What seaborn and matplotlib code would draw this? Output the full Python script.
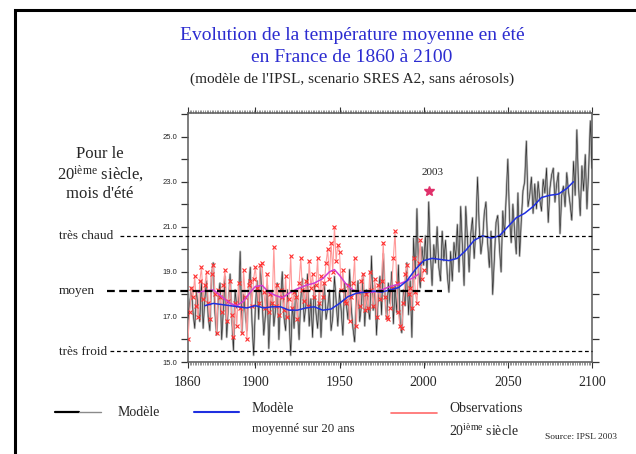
import matplotlib
matplotlib.use("Agg")
import pandas as pd
import seaborn as sns
import matplotlib.pyplot as plt
from matplotlib.lines import Line2D
from matplotlib.patches import Rectangle
from matplotlib.ticker import FixedLocator, MultipleLocator, FuncFormatter

# ---------------------------------------------------------------- data
model_years = list(range(1860, 2101))
model_temp = [
    16.9, 17.6, 18.3, 17.2, 16.5, 18.1, 17.4, 16.8, 18.6, 16.5,  # 1860s
    17.8, 18.6, 17.0, 16.4, 18.9, 19.4, 17.2, 16.2, 17.9, 18.5,  # 1870s
    16.0, 17.3, 18.8, 16.1, 17.6, 18.9, 17.0, 15.5, 18.2, 17.4,  # 1880s
    17.6, 19.9, 16.3, 18.0, 17.2, 16.4, 18.3, 19.2, 16.8, 15.3,  # 1890s
    17.4, 18.6, 16.9, 19.2, 17.8, 16.2, 17.1, 18.4, 15.6, 17.5,  # 1900s
    18.1, 16.6, 17.3, 18.5, 16.0, 17.7, 19.0, 17.0, 16.4, 18.2,  # 1910s
    17.1, 15.3, 17.6, 16.5, 18.2, 17.3, 16.0, 17.8, 18.7, 16.8,  # 1920s
    17.5, 18.9, 16.6, 17.8, 16.1, 18.4, 17.2, 16.5, 18.0, 16.1,  # 1930s
    17.6, 18.5, 16.9, 17.4, 18.2, 16.4, 17.0, 18.8, 17.7, 16.6,  # 1940s
    18.1, 17.3, 16.2, 18.5, 17.6, 16.9, 19.1, 17.4, 16.5, 15.9,  # 1950s
    17.8, 18.6, 16.8, 17.5, 18.9, 16.6, 18.2, 17.4, 16.9, 19.7,  # 1960s
    17.3, 18.4, 16.2, 17.9, 18.8, 17.1, 19.8, 18.0, 16.9, 18.5,  # 1970s
    17.6, 19.0, 16.7, 18.4, 17.2, 19.3, 16.8, 16.3, 18.2, 17.5,  # 1980s
    19.4, 17.1, 18.6, 16.1, 20.5, 18.7, 21.8, 19.0, 18.3, 20.1,  # 1990s
    19.3, 20.6, 18.9, 22.1, 19.8, 18.4, 20.2, 19.4, 21.0, 19.2,  # 2000s
    18.6, 20.8, 19.5, 20.4, 18.9, 18.1, 19.9, 18.6, 20.3, 19.6,  # 2010s
    21.1, 19.0, 21.9, 20.2, 18.4, 21.9, 20.5, 19.0, 20.7, 21.4,  # 2020s
    19.6, 20.9, 23.2, 21.0, 19.8, 20.4, 21.6, 22.1, 20.3, 19.2,  # 2030s
    20.8, 18.0, 19.6, 21.2, 21.5, 20.1, 19.0, 21.7, 20.6, 22.3,  # 2040s
    24.0, 21.4, 20.3, 22.0, 20.8, 19.8, 22.5, 19.7, 21.3, 22.6,  # 2050s
    23.0, 24.8, 21.9, 22.4, 23.2, 21.6, 22.9, 21.8, 23.0, 22.2,  # 2060s
    21.7, 23.1, 22.5, 23.6, 21.2, 22.7, 23.3, 23.6, 22.1, 22.9,  # 2070s
    23.4, 20.7, 22.4, 22.8, 21.9, 23.4, 22.6, 22.0, 21.3, 23.9,  # 2080s
    22.4, 25.3, 22.8, 21.5, 23.7, 22.6, 24.2, 21.8, 23.5, 25.7,  # 2090s
    23.6,                                                        # 2100
]

mean20_years = [1870, 1875, 1880, 1885, 1890, 1895, 1900, 1905, 1910, 1915,
                1920, 1925, 1930, 1935, 1940, 1945, 1950, 1955, 1960, 1965,
                1970, 1975, 1980, 1985, 1990, 1995, 2000, 2005, 2010, 2015,
                2020, 2025, 2030, 2035, 2040, 2045, 2050, 2055, 2060, 2065,
                2070, 2075, 2080, 2085, 2089]
mean20_temp = [17.5, 17.6, 17.55, 17.5, 17.45, 17.4, 17.5, 17.4, 17.45, 17.45,
               17.3, 17.3, 17.4, 17.45, 17.3, 17.35, 17.6, 17.9, 18.05, 18.1,
               18.15, 18.1, 18.2, 18.3, 18.6, 19.1, 19.5, 19.6, 19.55, 19.5,
               19.6, 19.95, 20.4, 20.6, 20.5, 20.6, 21.0, 21.4, 21.6, 21.9,
               22.3, 22.4, 22.45, 22.7, 23.0]

obs_years = list(range(1860, 2001))
obs_temp = [
    16.0, 17.2, 18.3, 17.9, 18.8, 17.5, 17.0, 18.6, 19.2, 17.8,  # 1860s
    18.4, 19.0, 17.6, 16.9, 18.9, 19.3, 18.0, 16.3, 18.2, 17.9,  # 1870s
    17.2, 18.4, 19.1, 16.8, 17.7, 18.6, 17.1, 16.1, 17.6, 16.6,  # 1880s
    18.5, 17.4, 16.3, 19.1, 17.9, 16.0, 18.4, 18.6, 17.5, 18.7,  # 1890s
    19.2, 18.3, 17.6, 19.3, 19.4, 18.1, 17.4, 18.9, 17.2, 18.0,  # 1900s
    17.6, 20.1, 17.5, 18.4, 17.1, 18.2, 17.9, 17.3, 18.8, 17.0,  # 1910s
    17.8, 19.7, 17.4, 18.1, 17.9, 16.9, 18.5, 19.6, 18.2, 17.7,  # 1920s
    18.6, 17.5, 19.5, 18.3, 18.9, 17.9, 18.4, 19.6, 17.6, 18.8,  # 1930s
    17.9, 18.5, 19.4, 20.0, 18.7, 20.3, 19.0, 21.0, 19.5, 20.2,  # 1940s
    19.9, 18.2, 19.1, 17.7, 17.6, 18.4, 16.8, 17.9, 18.5, 19.6,  # 1950s
    16.6, 18.1, 17.5, 18.6, 18.9, 17.3, 18.0, 17.4, 19.0, 18.2,  # 1960s
    17.5, 18.7, 17.0, 18.4, 17.8, 18.6, 20.3, 17.9, 17.0, 16.9,  # 1970s
    17.4, 18.3, 19.6, 20.8, 18.5, 17.2, 16.6, 16.5, 17.6, 18.9,  # 1980s
    19.3, 18.0, 18.3, 17.4, 19.6, 18.1, 17.6, 19.4, 20.4, 18.7,  # 1990s
    19.1,                                                        # 2000
]

obs_mean_years = [1866, 1870, 1875, 1880, 1885, 1889, 1893, 1897, 1900, 1904,
                  1908, 1912, 1916, 1920, 1925, 1930, 1935, 1940, 1944, 1947,
                  1950, 1954, 1958, 1962, 1966, 1970, 1975, 1980, 1985, 1990,
                  1994, 1997]
obs_mean_temp = [18.1, 18.15, 18.2, 17.9, 17.6, 17.5, 17.7, 18.1, 18.35, 18.4,
                 18.1, 17.95, 17.85, 18.05, 18.25, 18.4, 18.5, 18.7, 19.0, 19.1,
                 18.85, 18.45, 18.2, 18.1, 18.1, 18.1, 18.2, 18.35, 18.45, 18.6,
                 18.75, 18.9]

summer_2003_year = 2003
summer_2003_temp = 22.6

level_labels = ["très chaud", "moyen", "très froid"]
level_temps = [20.6, 18.14, 15.47]

x_tick_years = [1860, 1900, 1950, 2000, 2050, 2100]
y_tick_temps = list(range(15, 27))

# ---------------------------------------------------------------- style
sns.set_theme(style="white")
plt.rcParams["font.family"] = ["Liberation Serif", "DejaVu Serif"]
plt.rcParams["mathtext.fontset"] = "custom"
plt.rcParams["mathtext.rm"] = "Liberation Serif"
plt.rcParams["mathtext.it"] = "Liberation Serif:italic"
plt.rcParams["mathtext.bf"] = "Liberation Serif:bold"

W, H = 636, 454
fig = plt.figure(figsize=(W / 100, H / 100), dpi=100)
fig.patch.set_facecolor("white")


def fx(px):
    return px / W


def fy(py):
    return 1 - py / H


ax = fig.add_axes([fx(188), fy(362), fx(592) - fx(188), fy(113) - fy(362)])
ax.set_facecolor("white")

# ---------------------------------------------------------------- series
df_model = pd.DataFrame({"year": model_years, "temp": model_temp})
df_mean20 = pd.DataFrame({"year": mean20_years, "temp": mean20_temp})
df_obs = pd.DataFrame({"year": obs_years, "temp": obs_temp})
df_obs_mean = pd.DataFrame({"year": obs_mean_years, "temp": obs_mean_temp})

# model: grey halo with a thin dark core
sns.lineplot(data=df_model, x="year", y="temp", ax=ax, estimator=None,
             color="#b4b4b4", linewidth=1.6, zorder=2)
sns.lineplot(data=df_model, x="year", y="temp", ax=ax, estimator=None,
             color="#2a2a2a", linewidth=0.45, zorder=3)
sns.lineplot(data=df_obs, x="year", y="temp", ax=ax, estimator=None,
             color="#ff9a9a", linewidth=0.8, marker="x", markersize=3.4,
             markeredgecolor="#ff3030", markeredgewidth=0.8, zorder=4)
sns.lineplot(data=df_obs_mean, x="year", y="temp", ax=ax, estimator=None,
             color="#d23cd2", linewidth=1.1, zorder=5)
sns.lineplot(data=df_mean20, x="year", y="temp", ax=ax, estimator=None,
             color="#1f2fe0", linewidth=1.1, zorder=6)
ax.plot([summer_2003_year], [summer_2003_temp], marker="*", ls="none",
        color="#e0306a", markersize=7, zorder=7)
ax.text(summer_2003_year + 2, summer_2003_temp + 0.8, "2003",
        ha="center", va="center", fontsize=8)

# reference levels, extending into the left margin
trans = ax.get_yaxis_transform()
level_spans = [(-0.168, 1.0), (-0.2, 0.629), (-0.193, 1.0)]
level_widths = [0.9, 1.6, 0.9]
level_dashes = [(0, (3, 2.2)), (0, (3.5, 2)), (0, (3, 2.2))]
level_text_y = [236, 291, 352]
for lab, t, span, lw, ds, ty in zip(level_labels, level_temps, level_spans,
                                    level_widths, level_dashes, level_text_y):
    ax.plot(span, [t, t], transform=trans, clip_on=False, color="black",
            linewidth=lw, linestyle=ds, zorder=8)
    fig.text(fx(59), fy(ty), lab, ha="left", va="center", fontsize=9.5)

# ---------------------------------------------------------------- axes
ax.set_xlabel("")
ax.set_ylabel("")
ax.set_xlim(1860, 2100)
ax.set_ylim(15, 26.05)
ax.xaxis.set_major_locator(FixedLocator(x_tick_years))
ax.xaxis.set_minor_locator(MultipleLocator(1))
ax.xaxis.set_major_formatter(FuncFormatter(lambda v, p: f"{int(v)}"))
ax.yaxis.set_major_locator(FixedLocator(y_tick_temps))
ax.yaxis.set_major_formatter(
    FuncFormatter(lambda v, p: f"{v:.1f}" if int(round(v)) % 2 == 1 else ""))
ax.tick_params(axis="x", which="major", direction="out", length=4, width=0.8,
               bottom=True, top=True, labelsize=10, pad=6, color="#333333")
ax.tick_params(axis="x", which="minor", direction="out", length=2, width=0.4,
               bottom=True, top=True, color="#444444")
ax.tick_params(axis="y", which="major", direction="out", length=5, width=0.9,
               left=True, right=True, labelsize=5.5, pad=3, color="#333333",
               labelfontfamily="Liberation Sans")
for s in ax.spines.values():
    s.set_color("#5a5a5a")
    s.set_linewidth(1.1)

# ---------------------------------------------------------------- titles
blue_title = "#2c2cd0"
fig.text(fx(352), fy(36), "Evolution de la température moyenne en été",
         ha="center", va="center", fontsize=14, color=blue_title)
fig.text(fx(352), fy(57), "en France de 1860 à 2100",
         ha="center", va="center", fontsize=14, color=blue_title)
fig.text(fx(352), fy(79), "(modèle de l'IPSL, scenario SRES A2, sans aérosols)",
         ha="center", va="center", fontsize=11)

fig.text(fx(100), fy(154), "Pour le", ha="center", va="center", fontsize=12)
fig.text(fx(100), fy(174), "20$^{\\mathrm{ième}}$ siècle,", ha="center",
         va="center", fontsize=12)
fig.text(fx(100), fy(194), "mois d'été", ha="center", va="center", fontsize=12)

# ---------------------------------------------------------------- legend
fig.add_artist(Line2D([fx(55), fx(79)], [fy(412)] * 2, color="black", lw=1.6))
fig.add_artist(Line2D([fx(79), fx(101)], [fy(412)] * 2, color="#8a8a8a", lw=1.0))
fig.text(fx(118), fy(412), "Modèle", ha="left", va="center", fontsize=10)

fig.add_artist(Line2D([fx(194), fx(239)], [fy(412)] * 2, color="#1f2fe0", lw=1.5))
fig.text(fx(252), fy(408), "Modèle", ha="left", va="center", fontsize=10)
fig.text(fx(252), fy(429), "moyenné sur 20 ans", ha="left", va="center",
         fontsize=9.3)

fig.add_artist(Line2D([fx(391), fx(437)], [fy(413)] * 2, color="#ff6a6a", lw=1.2))
fig.text(fx(449), fy(409), "Observations", ha="left", va="center", fontsize=10)
fig.text(fx(449), fy(431), "20$^{\\mathrm{ième}}$ siècle", ha="left",
         va="center", fontsize=10)

fig.text(fx(545), fy(437), "Source: IPSL 2003", ha="left", va="center",
         fontsize=6.8)

# outer frame (runs off the right and bottom edges)
fig.add_artist(Rectangle((fx(15), fy(480)), fx(700) - fx(15), fy(10) - fy(480),
                         transform=fig.transFigure, fill=False,
                         edgecolor="black", linewidth=2.2, clip_on=False))

fig.savefig("out.png", dpi=100, facecolor="white")
